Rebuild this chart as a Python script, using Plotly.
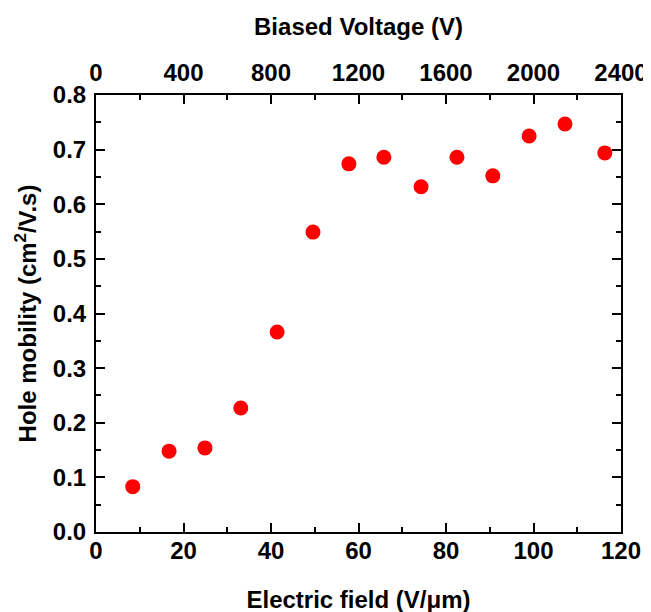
import plotly.graph_objects as go

# electric field (V/um) and hole mobility (cm2/V.s)
field = [8.4, 16.7, 24.9, 33.1, 41.4, 49.6, 57.8, 65.8, 74.3, 82.5, 90.7, 99.0, 107.2, 116.3]
mobility = [0.083, 0.148, 0.154, 0.227, 0.366, 0.549, 0.674, 0.686, 0.632, 0.686, 0.652, 0.725, 0.747, 0.694]
voltage_per_field = 20  # biased voltage = field * 20

voltage = [f * voltage_per_field for f in field]

font = "Liberation Sans, Arial, sans-serif"
tickfont = dict(family=font, size=24, color="black", weight="bold")
titlefont = dict(family=font, size=24, color="black", weight="bold")
minor_ticks = dict(ticks="inside", ticklen=5, tickwidth=2, tickcolor="black")

fig = go.Figure()
fig.add_trace(go.Scatter(x=field, y=mobility, mode="markers",
                         marker=dict(color="#ff0000", size=15),
                         showlegend=False))
# invisible traces so the top and right axes are drawn
fig.add_trace(go.Scatter(x=voltage, y=mobility, mode="markers", xaxis="x2",
                         marker=dict(opacity=0), hoverinfo="skip", showlegend=False))
fig.add_trace(go.Scatter(x=field, y=mobility, mode="markers", yaxis="y2",
                         marker=dict(opacity=0), hoverinfo="skip", showlegend=False))

axis_common = dict(showline=True, linecolor="black", linewidth=2,
                   ticks="inside", ticklen=9, tickwidth=2, tickcolor="black",
                   showgrid=False, zeroline=False, automargin=False,
                   tickfont=tickfont)

# page body adds an 8px offset, margins account for it
fig.update_layout(
    width=651, height=612,
    margin=dict(l=88, r=38, t=87, b=88),
    plot_bgcolor="white", paper_bgcolor="white",
    font=dict(family=font, color="black"),
    xaxis=dict(range=[0, 120], dtick=20, tick0=0, minor=dict(dtick=10, **minor_ticks),
               ticklabelstandoff=-4,
               title=dict(text="Electric field (V/μm)", font=titlefont, standoff=28),
               **axis_common),
    xaxis2=dict(range=[0, 2400], dtick=400, tick0=0, overlaying="x", side="top", anchor="y",
                minor=dict(dtick=200, **minor_ticks), ticklabelstandoff=2,
                title=dict(text="Biased Voltage (V)", font=titlefont, standoff=17),
                **axis_common),
    yaxis=dict(range=[0, 0.8], dtick=0.1, tick0=0, tickformat=".1f",
               minor=dict(dtick=0.05, **minor_ticks), ticklabelstandoff=3,
               title=dict(text="Hole mobility (cm<sup>2</sup>/V.s)", font=titlefont, standoff=9),
               **axis_common),
    yaxis2=dict(range=[0, 0.8], dtick=0.1, overlaying="y", side="right", anchor="x",
                showticklabels=False, minor=dict(dtick=0.05, **minor_ticks),
                **axis_common),
)

fig.write_html("out.html")
